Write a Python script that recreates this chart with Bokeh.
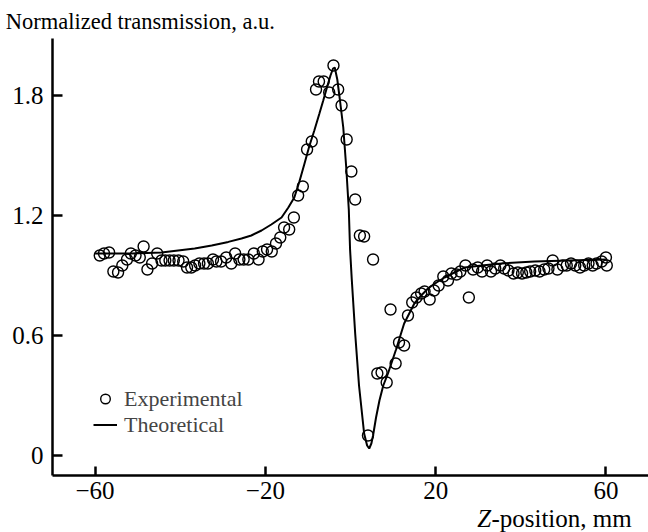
from bokeh.plotting import figure
from bokeh.models import Range1d, FixedTicker, Label, Legend, LegendItem, LinearAxis
from bokeh.embed import file_html
from bokeh.resources import INLINE

# Experimental points (Z-position, mm ; normalized transmission)
exp_z = [-58.9, -57.9, -56.7, -55.7, -54.6, -53.6, -52.5, -51.6, -50.5, -49.5,
         -48.6, -47.7, -46.6, -45.4, -44.4, -43.5, -42.5, -41.5, -40.4, -39.3,
         -38.4, -37.4, -36.5, -35.5, -34.4, -33.5, -32.3, -31.5, -30.4, -29.2,
         -28.0, -27.1, -26.1, -25.1, -24.0, -22.7, -21.6, -20.6, -19.6, -18.5,
         -17.5, -16.5, -15.6, -14.4, -13.3, -12.3, -11.2, -10.2, -9.1, -8.1,
         -7.4, -6.3, -5.0, -4.0, -2.9, -2.1, -0.9, 0.2, 1.1, 2.2,
         3.2, 5.3, 4.1, 6.3, 7.3, 8.5, 9.4, 10.6, 11.4, 12.6,
         13.5, 14.5, 15.5, 16.6, 17.4, 18.6, 19.6, 20.7, 21.8, 22.9,
         23.7, 24.9, 25.8, 27.0, 27.8, 28.8, 29.9, 30.9, 32.1, 33.0,
         34.0, 35.2, 36.1, 37.1, 38.3, 39.3, 40.3, 41.3, 42.2, 43.4,
         44.4, 45.5, 46.5, 47.5, 48.6, 49.9, 50.8, 51.8, 52.8, 53.9,
         54.9, 55.9, 56.9, 57.8, 59.0, 60.0, 60.2]
exp_t = [1.00, 1.01, 1.015, 0.92, 0.915, 0.95, 0.98, 1.01, 1.00, 0.99,
         1.045, 0.93, 0.96, 1.01, 0.975, 0.975, 0.975, 0.975, 0.975, 0.97,
         0.94, 0.94, 0.95, 0.96, 0.96, 0.96, 0.98, 0.97, 0.97, 0.99,
         0.96, 1.01, 0.98, 0.98, 0.98, 1.01, 0.98, 1.02, 1.03, 1.02,
         1.06, 1.09, 1.14, 1.13, 1.19, 1.30, 1.345, 1.53, 1.57, 1.83,
         1.87, 1.87, 1.815, 1.95, 1.83, 1.75, 1.58, 1.42, 1.28, 1.10,
         1.095, 0.98, 0.10, 0.41, 0.415, 0.365, 0.73, 0.46, 0.565, 0.55,
         0.70, 0.765, 0.79, 0.81, 0.82, 0.78, 0.825, 0.85, 0.895, 0.875,
         0.91, 0.905, 0.92, 0.95, 0.79, 0.93, 0.94, 0.92, 0.95, 0.92,
         0.935, 0.95, 0.935, 0.925, 0.91, 0.915, 0.91, 0.915, 0.92, 0.925,
         0.92, 0.93, 0.935, 0.975, 0.93, 0.95, 0.95, 0.96, 0.95, 0.94,
         0.95, 0.96, 0.95, 0.96, 0.97, 0.99, 0.95]

# Theoretical curve
th_z = [-60.0, -51.4, -44.4, -36.6, -32.6, -28.7, -25.6, -23.3, -20.9, -18.6,
        -16.2, -14.6, -13.2, -12.0, -10.8, -9.7, -8.5, -7.3, -6.4, -5.4,
        -4.7, -4.1, -3.7, -3.1, -2.5, -1.7, -1.0, -0.4, -0.1, 0.3,
        1.1, 2.0, 3.2, 3.9, 4.4, 4.9, 5.3, 6.0, 6.8, 7.7,
        8.8, 10.7, 12.6, 15.0, 16.6, 18.2, 20.2, 22.1, 24.4, 26.8,
        30.8, 35.5, 43.2, 51.2, 60.0]
th_t = [1.01, 1.01, 1.015, 1.035, 1.05, 1.068, 1.085, 1.10, 1.125, 1.155,
        1.19, 1.24, 1.29, 1.37, 1.46, 1.545, 1.625, 1.71, 1.775, 1.85,
        1.90, 1.935, 1.94, 1.88, 1.78, 1.64, 1.44, 1.23, 1.03, 0.88,
        0.61, 0.35, 0.11, 0.05, 0.035, 0.06, 0.10, 0.19, 0.275, 0.35,
        0.41, 0.53, 0.66, 0.76, 0.80, 0.835, 0.865, 0.89, 0.915, 0.94,
        0.95, 0.96, 0.97, 0.975, 0.98]

x_ticks = [-60, -20, 20, 60]
x_tick_labels = ["\u221260", "\u221220", "20", "60"]
y_ticks = [0, 0.6, 1.2, 1.8]
y_tick_labels = ["0", "0.6", "1.2", "1.8"]

FONT = "Liberation Serif"

# the frame fills the whole canvas; axes are drawn at fixed data locations
p = figure(width=648, height=532, output_backend="svg", toolbar_location=None,
           x_range=Range1d(-82.215, 70), y_range=Range1d(-0.385, 2.275),
           x_axis_location=None, y_axis_location=None, min_border=0)
p.outline_line_color = None
p.grid.visible = False
p.background_fill_color = "white"
p.border_fill_color = "white"

ln = p.line(th_z, th_t, line_color="black", line_width=2)
sc = p.scatter(exp_z, exp_t, marker="circle", size=11, fill_color=None,
               line_color="black", line_width=1.4)

xaxis = LinearAxis(fixed_location=-0.1, bounds=(-70, 70),
                   ticker=FixedTicker(ticks=x_ticks),
                   major_label_overrides=dict(zip(x_ticks, x_tick_labels)),
                   major_tick_in=9, major_label_standoff=6)
yaxis = LinearAxis(fixed_location=-70, bounds=(-0.1, 2.085),
                   ticker=FixedTicker(ticks=y_ticks),
                   major_label_overrides=dict(zip(y_ticks, y_tick_labels)),
                   major_tick_in=10, major_label_standoff=9)
for ax in (xaxis, yaxis):
    ax.axis_line_width = 2.5
    ax.major_tick_line_width = 2.5
    ax.major_tick_out = 0
    ax.minor_tick_line_color = None
    ax.major_label_text_font = FONT
    ax.major_label_text_font_size = "25px"
    ax.major_label_text_color = "black"
    ax.axis_line_color = "black"
    ax.major_tick_line_color = "black"
p.add_layout(xaxis, "below")
p.add_layout(yaxis, "left")

p.add_layout(Label(x=-81.0, y=2.17, text="Normalized transmission, a.u.",
                   text_font=FONT, text_font_size="22.5px", text_color="black",
                   text_baseline="alphabetic", text_align="left"))
p.add_layout(Label(x=29.8, y=-0.315, text="Z", text_font=FONT,
                   text_font_style="italic", text_font_size="25px",
                   text_color="black", text_baseline="alphabetic",
                   text_align="left"))
p.add_layout(Label(x=33.1, y=-0.315, text="-position, mm", text_font=FONT,
                   text_font_size="25px", text_color="black",
                   text_baseline="alphabetic", text_align="left"))

legend = Legend(items=[LegendItem(label="Experimental", renderers=[sc]),
                       LegendItem(label="Theoretical", renderers=[ln])],
                location=(93, 94.5), orientation="vertical",
                glyph_width=24, glyph_height=25, label_height=25,
                label_standoff=7, spacing=0, padding=0, margin=0,
                label_text_font=FONT, label_text_font_size="22px",
                background_fill_alpha=0, border_line_color=None)
p.add_layout(legend)

open("out.html", "w").write(file_html(p, INLINE))
